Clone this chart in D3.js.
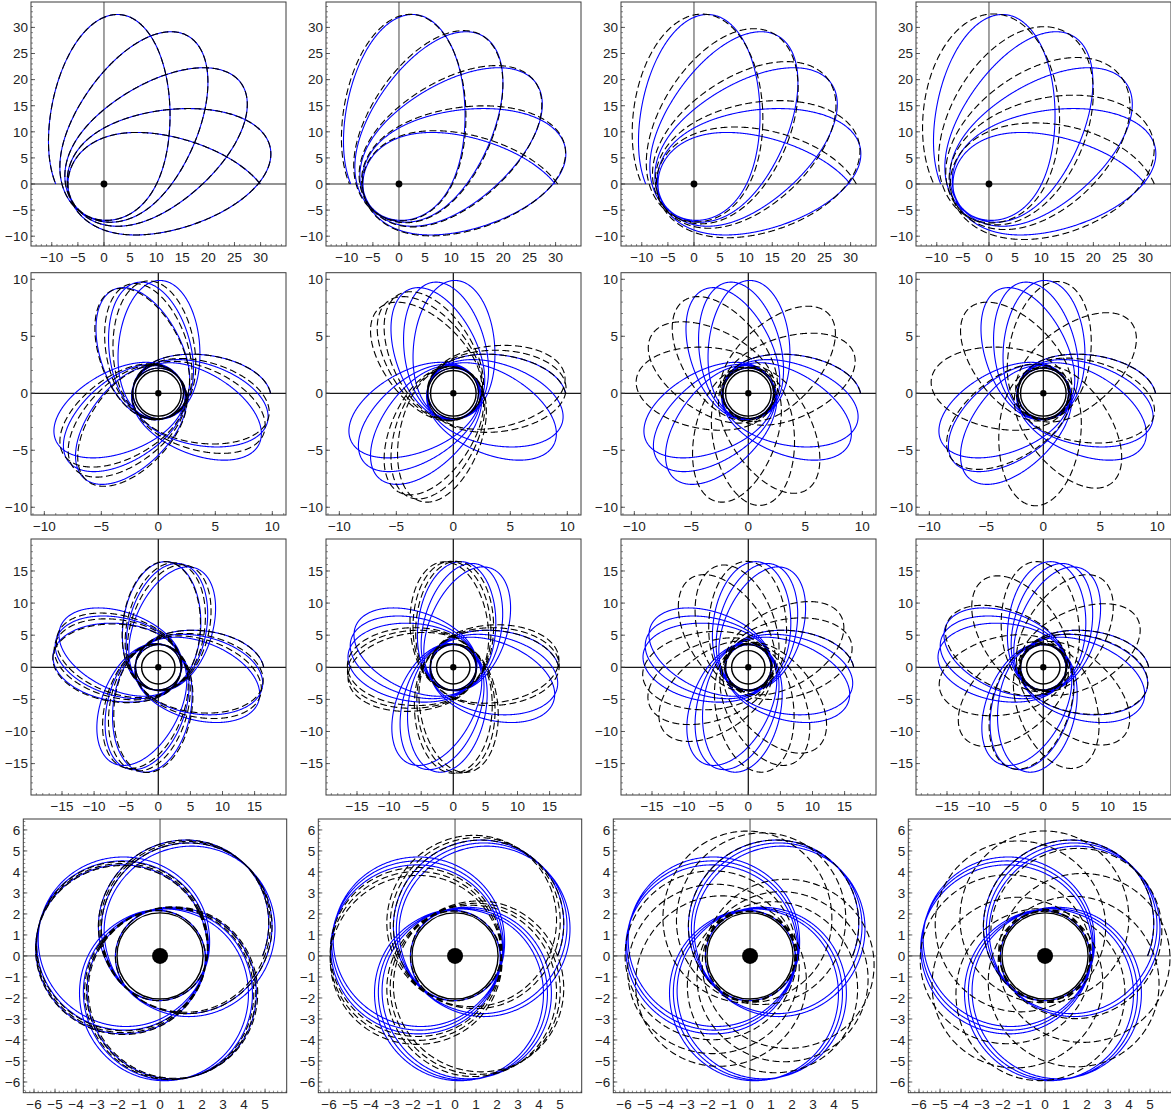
<!DOCTYPE html>
<html>
<head>
<meta charset="utf-8">
<script src="https://cdn.jsdelivr.net/npm/d3@7"></script>
<style>
  body { margin: 0; background: #fff; }
  svg { display: block; }
  .tick-label { font-family: "Liberation Sans", Arial, sans-serif; font-size: 13.5px; fill: #222; }
</style>
</head>
<body>
<div id="chart"></div>
<script>
// ---- data ---------------------------------------------------------------
// one row = one orbit; blue = full solution, dashed = approximation per column
const rowApo   = [32.6, 9.9, 16.5, 5.95];   // apocentre radius
const rowPeri  = [6.9, 2.2, 3.5, 2.12];     // pericentre radius
const rowShape = [0.4, 0.35, 0.3, -0.3];    // lobe narrowing (+) / rounding (-)
const rowBase  = [384, 360, 360, 360];      // sweep of one orbit without whirl (deg)
const rowStart = [0, 0, 0, 0];              // first plotted angle (deg)
const rowEnd   = [1620, 4043, 5149, 4115];  // last plotted angle (deg)

const blueTurn = [384, 476, 448, 478];      // apocentre-to-apocentre angle (deg)
const blueApo0 = [-11.5, -3, -3, 52];       // direction of first apocentre (deg)

const dashTurn = [
  [384, 384, 384, 384],
  [477, 482, 488, 494],
  [448.5, 451, 454, 457.5],
  [479, 482, 487, 493]
];
const dashApo0 = [
  [-11.5, -10.8, -9.5, -8],
  [-3, -3, -3, -3],
  [-3, -3, -3, -3],
  [52, 52, 52, 52]
];
const dashPeri = [
  [6.9, 7.0, 7.2, 7.4],
  [2.2, 2.2, 2.2, 2.2],
  [3.5, 3.5, 3.5, 3.5],
  [2.12, 2.12, 2.12, 2.12]
];
const dashShape = [
  [0.4, 0.38, 0.34, 0.3],
  [0.35, 0.35, 0.35, 0.35],
  [0.3, 0.3, 0.3, 0.3],
  [-0.3, -0.3, -0.3, -0.3]
];

const ringRadius = [0, 2.0, 2.6, 2.05];     // black circle round the centre
const dotPx      = [3.4, 3.2, 3.2, 8];      // central body, pixels

const xDomains = [[-13.98, 34.87], [-11.17, 11.2], [-19.83, 19.89], [-6.51, 6.03]];
const yDomains = [[-11.88, 34.87], [-10.68, 10.58], [-19.89, 19.98], [-6.51, 6.52]];
const xTicks = [
  [-10, -5, 0, 5, 10, 15, 20, 25, 30],
  [-10, -5, 0, 5, 10],
  [-15, -10, -5, 0, 5, 10, 15],
  [-6, -5, -4, -3, -2, -1, 0, 1, 2, 3, 4, 5]
];
const yTicks = [
  [-10, -5, 0, 5, 10, 15, 20, 25, 30],
  [-10, -5, 0, 5, 10],
  [-15, -10, -5, 0, 5, 10, 15],
  [-6, -5, -4, -3, -2, -1, 0, 1, 2, 3, 4, 5, 6]
];
const tickStep = [5, 5, 5, 1];

// panel frames in page pixels
const rowTop    = [2, 272.7, 539, 819];
const rowBottom = [246, 515, 795, 1092.7];
const rowLeft   = [31, 31, 31, 23.3];
const rowWidth  = [255, 255, 255, 263.4];
const colStep = 295;
const axisColor = ['#707070', '#1a1a1a', '#1a1a1a', '#707070'];

// ---- orbit curve ----------------------------------------------------------
const WHIRL_MEAN = 12870 / 65536;  // mean of sin^16(t/2)

function orbitPoints(ra, rp, shape, base, turn, apo0, phi0, phi1) {
    const ua = 1 / ra, up = 1 / rp;
    const k = base / 360;
    const h = (turn / base - 1) / WHIRL_MEAN;
    const rate = t => k * (1 - shape * Math.cos(t) + h * Math.pow(Math.sin(t / 2), 16)) * 180 / Math.PI;
    const rad = t => 1 / (ua + (up - ua) * (1 - Math.cos(t)) / 2);
    const dt = 0.006;

    const back = [];
    let t = 0, phi = apo0;
    while (phi > phi0) {
        back.push([phi, rad(t)]);
        phi -= rate(t - dt / 2) * dt;
        t -= dt;
    }
    back.push([phi, rad(t)]);
    back.reverse();

    const fwd = [];
    t = 0; phi = apo0;
    while (phi < phi1) {
        phi += rate(t + dt / 2) * dt;
        t += dt;
        fwd.push([phi, rad(t)]);
    }
    const all = back.concat(fwd);

    // trim to [phi0, phi1], interpolating the end points
    const out = [];
    for (let i = 0; i < all.length; i++) {
        const [p, r] = all[i];
        if (p >= phi0 && p <= phi1) {
            if (out.length === 0 && i > 0) {
                const [pp, rr] = all[i - 1];
                out.push([phi0, rr + (r - rr) * (phi0 - pp) / (p - pp)]);
            }
            out.push([p, r]);
        } else if (p > phi1 && out.length) {
            const [pp, rr] = all[i - 1];
            out.push([phi1, rr + (r - rr) * (phi1 - pp) / (p - pp)]);
            break;
        }
    }
    return out;
}

// ---- drawing --------------------------------------------------------------
const svg = d3.select('#chart').append('svg')
    .attr('width', 1171)
    .attr('height', 1115);

const fmt = v => (v < 0 ? '\u2212' + Math.abs(v) : String(v));

for (let row = 0; row < 4; row++) {
    for (let col = 0; col < 4; col++) {
        const left = rowLeft[row] + col * colStep;
        const top = rowTop[row];
        const w = rowWidth[row];
        const hgt = rowBottom[row] - rowTop[row];

        const x = d3.scaleLinear().domain(xDomains[row]).range([left, left + w]);
        const y = d3.scaleLinear().domain(yDomains[row]).range([top + hgt, top]);

        const g = svg.append('g');
        const clipId = `clip-${row}-${col}`;
        g.append('clipPath').attr('id', clipId)
            .append('rect').attr('x', left).attr('y', top).attr('width', w).attr('height', hgt);

        const plot = g.append('g').attr('clip-path', `url(#${clipId})`);

        // zero axes
        plot.append('line')
            .attr('x1', left).attr('x2', left + w)
            .attr('y1', y(0)).attr('y2', y(0))
            .attr('stroke', axisColor[row]).attr('stroke-width', 1.3);
        plot.append('line')
            .attr('x1', x(0)).attr('x2', x(0))
            .attr('y1', top).attr('y2', top + hgt)
            .attr('stroke', axisColor[row]).attr('stroke-width', 1.3);

        const line = d3.line()
            .x(d => x(d[1] * Math.cos(d[0] * Math.PI / 180)))
            .y(d => y(d[1] * Math.sin(d[0] * Math.PI / 180)));

        const blue = orbitPoints(rowApo[row], rowPeri[row], rowShape[row], rowBase[row],
            blueTurn[row], blueApo0[row], rowStart[row], rowEnd[row]);
        const dash = orbitPoints(rowApo[row], dashPeri[row][col], dashShape[row][col], rowBase[row],
            dashTurn[row][col], dashApo0[row][col], rowStart[row], rowEnd[row]);

        if (ringRadius[row] > 0) {
            plot.append('circle')
                .attr('cx', x(0)).attr('cy', y(0))
                .attr('r', x(ringRadius[row]) - x(0))
                .attr('fill', 'none').attr('stroke', '#000').attr('stroke-width', 1.4);
        }

        plot.append('path')
            .attr('d', line(blue))
            .attr('fill', 'none')
            .attr('stroke', '#0000ff')
            .attr('stroke-width', 1.1);

        plot.append('path')
            .attr('d', line(dash))
            .attr('fill', 'none')
            .attr('stroke', '#000')
            .attr('stroke-width', 1.1)
            .attr('stroke-dasharray', '7,3.5');

        plot.append('circle')
            .attr('cx', x(0)).attr('cy', y(0))
            .attr('r', dotPx[row])
            .attr('fill', '#000');

        // frame
        g.append('rect')
            .attr('x', left).attr('y', top).attr('width', w).attr('height', hgt)
            .attr('fill', 'none').attr('stroke', '#3a3a3a').attr('stroke-width', 1);

        // ticks
        const minor = tickStep[row] / 5;
        const xMinor = d3.range(Math.ceil(xDomains[row][0] / minor) * minor, xDomains[row][1], minor);
        const yMinor = d3.range(Math.ceil(yDomains[row][0] / minor) * minor, yDomains[row][1], minor);
        g.selectAll('.xminor').data(xMinor).join('line')
            .attr('x1', d => x(d)).attr('x2', d => x(d))
            .attr('y1', top + hgt).attr('y2', top + hgt - 2)
            .attr('stroke', '#3a3a3a').attr('stroke-width', 0.6);
        g.selectAll('.yminor').data(yMinor).join('line')
            .attr('y1', d => y(d)).attr('y2', d => y(d))
            .attr('x1', left).attr('x2', left + 2)
            .attr('stroke', '#3a3a3a').attr('stroke-width', 0.6);
        g.selectAll('.xmajor').data(xTicks[row]).join('line')
            .attr('x1', d => x(d)).attr('x2', d => x(d))
            .attr('y1', top + hgt).attr('y2', top + hgt - 4)
            .attr('stroke', '#3a3a3a').attr('stroke-width', 0.8);
        g.selectAll('.ymajor').data(yTicks[row]).join('line')
            .attr('y1', d => y(d)).attr('y2', d => y(d))
            .attr('x1', left).attr('x2', left + 4)
            .attr('stroke', '#3a3a3a').attr('stroke-width', 0.8);

        g.selectAll('.xlab').data(xTicks[row]).join('text')
            .attr('class', 'tick-label')
            .attr('x', d => x(d))
            .attr('y', top + hgt + 16)
            .attr('text-anchor', 'middle')
            .text(fmt);
        g.selectAll('.ylab').data(yTicks[row]).join('text')
            .attr('class', 'tick-label')
            .attr('x', left - 3)
            .attr('y', d => y(d) + 4.8)
            .attr('text-anchor', 'end')
            .text(fmt);
    }
}
</script>
</body>
</html>
